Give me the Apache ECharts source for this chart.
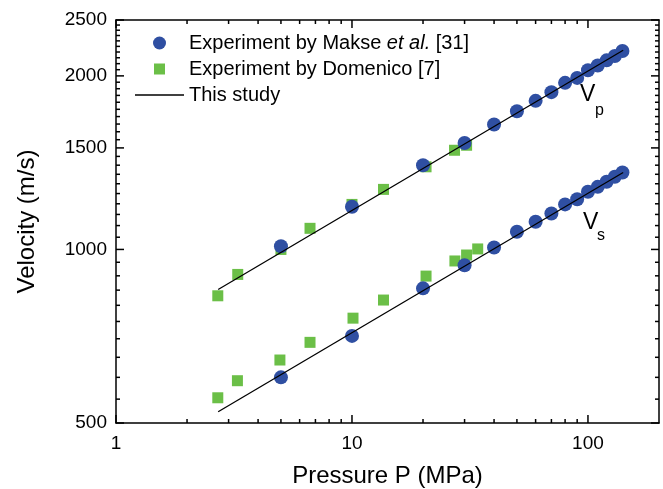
<!DOCTYPE html>
<html>
<head>
<meta charset="utf-8">
<script src="https://cdn.jsdelivr.net/npm/echarts@6/dist/echarts.min.js"></script>
<style>
  html, body { margin: 0; padding: 0; background: #fff; }
  #myChart { width: 663px; height: 489px; }
</style>
</head>
<body>
<div id="myChart"></div>
<script>
// Makse et al. [31] (blue circles)
const makseP = [5, 10, 20, 30, 40, 50, 60, 70, 80, 90, 100, 110, 120, 130, 140];
const makseVp = [1013, 1186, 1400, 1530, 1647, 1736, 1810, 1874, 1945, 1984, 2045, 2084, 2128, 2165, 2209];
const makseVs = [600, 708, 856, 939, 1008, 1073, 1117, 1154, 1197, 1222, 1259, 1284, 1310, 1337, 1360];

// Domenico [7] (green squares)
const domP_p = [2.7, 3.28, 5, 6.64, 10, 13.6, 20.6, 27.2, 30.6];
const domVp = [831, 905, 1000, 1088, 1197, 1271, 1391, 1486, 1516];
const domP_s = [2.7, 3.27, 4.95, 6.64, 10.1, 13.6, 20.6, 27.3, 30.6, 34.1];
const domVs = [553, 592, 643, 690, 760, 817, 899, 955, 978, 1002];

// This study (straight lines in log-log)
const studyP = [2.71, 141];
const studyVp = [852, 2215];
const studyVs = [523, 1360];

// axes
const xRange = [1, 200];
const yRange = [500, 2500];
const xMajor = [1, 10, 100];
const xMinor = [2, 3, 4, 5, 6, 7, 8, 9, 20, 30, 40, 50, 60, 70, 80, 90];
const yMajor = [500, 1000, 1500, 2000, 2500];
const yMinor = [];
for (let v = 550; v < 2500; v += 50) if (v % 500 !== 0) yMinor.push(v);

const lg = Math.log10;
const pts = (xs, ys) => xs.map((x, i) => [lg(x), lg(ys[i])]);

const FONT = "'Liberation Sans', Arial, Helvetica, sans-serif";
const BLUE = '#2f4fa2';
const GREEN = '#6bbf47';
const TICK_W = 1.5;

const NAME_MAKSE = 'Makse';
const NAME_DOM = 'Domenico';
const NAME_STUDY = 'This study';
const legendText = {
  Makse: 'Experiment by Makse {i|et al.} [31]',
  Domenico: 'Experiment by Domenico [7]',
  'This study': 'This study'
};

const xLo = lg(xRange[0]), xHi = lg(xRange[1]);
const yLo = lg(yRange[0]), yHi = lg(yRange[1]);

// inward tick marks on all four sides, drawn as thin scatter marks on the axis edges
function tickSeries(data, size, offset) {
  return {
    type: 'scatter', data: data, symbol: 'rect', symbolSize: size, symbolOffset: offset,
    itemStyle: { color: '#000', opacity: 1 }, clip: false, silent: true, z: 5,
    emphasis: { disabled: true }
  };
}
function xTicks(vals, len) {
  return [
    tickSeries(vals.map(v => [lg(v), yLo]), [TICK_W, len], [0, -len / 2]),
    tickSeries(vals.map(v => [lg(v), yHi]), [TICK_W, len], [0, len / 2])
  ];
}
function yTicks(vals, len) {
  return [
    tickSeries(vals.map(v => [xLo, lg(v)]), [len, TICK_W], [len / 2, 0]),
    tickSeries(vals.map(v => [xHi, lg(v)]), [len, TICK_W], [-len / 2, 0])
  ];
}

function axisCommon(min, max) {
  return {
    type: 'value', min: min, max: max,
    splitLine: { show: false },
    axisTick: { show: false },
    axisLine: { show: true, onZero: false, lineStyle: { color: '#000', width: 1.5 } }
  };
}

const chart = echarts.init(document.getElementById('myChart'));
chart.setOption({
  animation: false,
  backgroundColor: '#fff',
  grid: { left: 116, right: 4, top: 20, bottom: 66, containLabel: false, outerBoundsMode: 'none' },
  xAxis: [
    Object.assign(axisCommon(xLo, xHi), {
      position: 'bottom',
      axisLabel: { customValues: xMajor.map(lg), margin: 11, color: '#000', fontSize: 19, fontFamily: FONT,
        formatter: v => String(Math.round(Math.pow(10, v))) },
      name: 'Pressure P (MPa)', nameLocation: 'middle', nameGap: 41,
      nameTextStyle: { color: '#000', fontSize: 24, fontFamily: FONT }
    }),
    Object.assign(axisCommon(xLo, xHi), { position: 'top', axisLabel: { show: false } })
  ],
  yAxis: [
    Object.assign(axisCommon(yLo, yHi), {
      position: 'left',
      axisLabel: { customValues: yMajor.map(lg), margin: 9, color: '#000', fontSize: 19, fontFamily: FONT,
        formatter: v => String(Math.round(Math.pow(10, v))) },
      name: 'Velocity (m/s)', nameLocation: 'middle', nameGap: 77, nameRotate: 90,
      nameTextStyle: { color: '#000', fontSize: 24, fontFamily: FONT }
    }),
    Object.assign(axisCommon(yLo, yHi), { position: 'right', axisLabel: { show: false } })
  ],
  legend: {
    orient: 'vertical', left: 130, top: 28, padding: 5,
    itemWidth: 49, itemHeight: 13, itemGap: 6,
    symbolKeepAspect: true,
    selectedMode: false,
    data: [
      { name: NAME_MAKSE, icon: 'circle' },
      { name: NAME_DOM, icon: 'path://M0,0L0,0M13,13L13,13M1,1L12,1L12,12L1,12Z' },
      { name: NAME_STUDY, icon: 'path://M0,0L0,0M49,13L49,13M0,5.85L49,5.85L49,7.15L0,7.15Z' }
    ],
    formatter: n => legendText[n],
    textStyle: {
      color: '#000', fontSize: 20, fontFamily: FONT, lineHeight: 20,
      rich: { i: { fontStyle: 'italic', fontSize: 20, fontFamily: FONT, lineHeight: 20, color: '#000' } }
    }
  },
  graphic: [
    { type: 'text', left: 580, top: 83, style: { text: 'V', fontSize: 23, fontFamily: FONT, fill: '#000' } },
    { type: 'text', left: 595, top: 103, style: { text: 'p', fontSize: 16, fontFamily: FONT, fill: '#000' } },
    { type: 'text', left: 583, top: 211, style: { text: 'V', fontSize: 23, fontFamily: FONT, fill: '#000' } },
    { type: 'text', left: 597, top: 228, style: { text: 's', fontSize: 16, fontFamily: FONT, fill: '#000' } }
  ],
  series: [
    { name: NAME_DOM, type: 'scatter', symbol: 'rect', symbolSize: 11, data: pts(domP_p, domVp),
      itemStyle: { color: GREEN, opacity: 1 } },
    { name: NAME_DOM, type: 'scatter', symbol: 'rect', symbolSize: 11, data: pts(domP_s, domVs),
      itemStyle: { color: GREEN, opacity: 1 } },
    { name: NAME_MAKSE, type: 'scatter', symbol: 'circle', symbolSize: 14, data: pts(makseP, makseVp),
      itemStyle: { color: BLUE, opacity: 1 } },
    { name: NAME_MAKSE, type: 'scatter', symbol: 'circle', symbolSize: 14, data: pts(makseP, makseVs),
      itemStyle: { color: BLUE, opacity: 1 } },
    { name: NAME_STUDY, type: 'line', symbol: 'none', data: pts(studyP, studyVp),
      lineStyle: { color: '#000', width: 1.3 }, itemStyle: { color: '#000' } },
    { name: NAME_STUDY, type: 'line', symbol: 'none', data: pts(studyP, studyVs),
      lineStyle: { color: '#000', width: 1.3 }, itemStyle: { color: '#000' } }
  ].concat(xTicks(xMajor, 8), xTicks(xMinor, 4), yTicks(yMajor, 8), yTicks(yMinor, 4))
});
</script>
</body>
</html>
